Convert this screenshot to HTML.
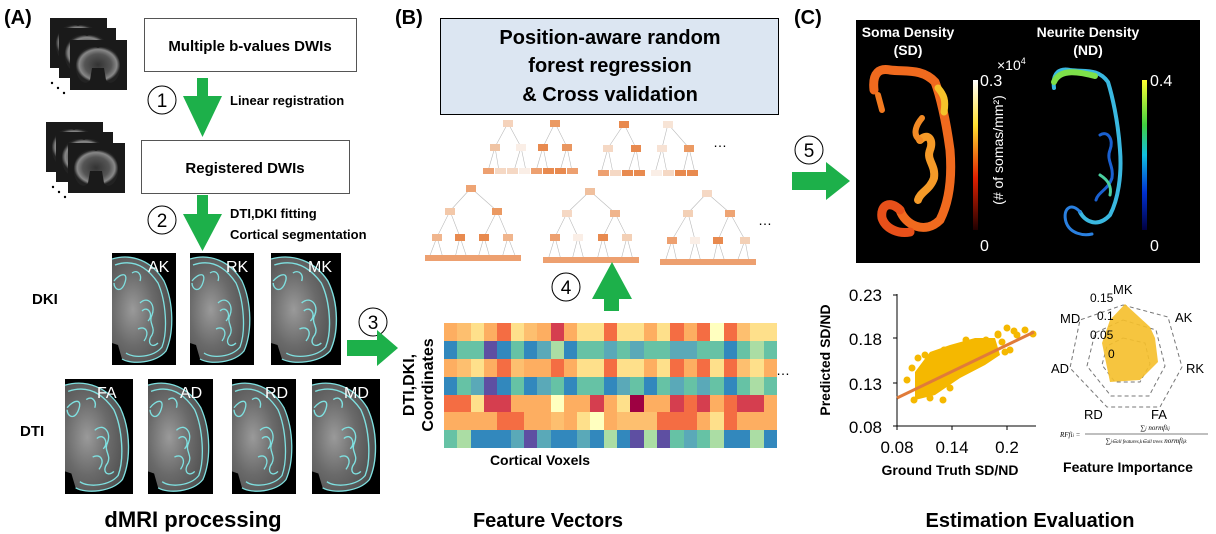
<!DOCTYPE html>
<html><head><meta charset="utf-8"><style>
html,body{margin:0;padding:0;background:#fff;}
svg{display:block;font-family:"Liberation Sans",Arial,sans-serif;}
.b{font-weight:bold;}
</style></head><body>
<svg width="1216" height="534" viewBox="0 0 1216 534" xmlns="http://www.w3.org/2000/svg">
<defs>
<radialGradient id="gb" cx="0.35" cy="0.5" r="0.7"><stop offset="0" stop-color="#9a9a9a"/><stop offset="0.5" stop-color="#6a6a6a"/><stop offset="1" stop-color="#4a4a4a"/></radialGradient>
<radialGradient id="dw" cx="0.5" cy="0.5" r="0.5"><stop offset="0" stop-color="#333"/><stop offset="0.6" stop-color="#555"/><stop offset="0.85" stop-color="#888"/><stop offset="1" stop-color="#222"/></radialGradient>
<symbol id="br" viewBox="0 0 64 112" preserveAspectRatio="none">
<rect width="64" height="112" fill="#000"/>
<path d="M0,6 C20,0 40,8 52,28 C62,50 62,80 54,98 C44,110 20,112 10,106 L6,92 L0,90 Z" fill="url(#gb)"/>
<path d="M0,6 C20,0 40,8 52,28 C62,50 62,80 54,98 C44,110 20,112 10,106 M3,12 C20,6 34,12 46,30 C54,48 56,78 50,94 C42,104 22,106 14,100 M2,28 C8,20 18,18 12,32 C8,40 2,36 2,30 M28,50 C36,42 44,52 40,62 C36,70 44,74 40,82 C34,90 40,96 46,90 M30,58 C36,52 42,62 36,68 M26,76 C34,72 38,80 32,88 M20,20 C26,16 30,22 28,28" fill="none" stroke="#7fe0e0" stroke-width="1.3"/>
</symbol>
<symbol id="dwi" viewBox="0 0 57 50" preserveAspectRatio="none">
<rect width="57" height="50" fill="#1a1a1a"/>
<path d="M6,30 C4,10 20,4 28,8 C36,4 52,10 50,30 C48,42 40,46 36,40 L34,28 L22,28 L20,40 C16,46 8,42 6,30Z" fill="url(#dw)"/>
</symbol>
</defs>

<!-- (A) -->
<text x="4" y="24" font-size="20" class="b">(A)</text>
<use href="#dwi" x="50" y="18" width="57" height="50"/>
<use href="#dwi" x="59" y="28" width="57" height="50"/>
<use href="#dwi" x="70" y="40" width="57" height="50"/>
<circle cx="52" cy="83" r="1.2"/><circle cx="58" cy="88" r="1.2"/><circle cx="64" cy="93" r="1.2"/>
<use href="#dwi" x="46" y="122" width="57" height="50"/>
<use href="#dwi" x="56" y="132" width="57" height="50"/>
<use href="#dwi" x="68" y="143" width="57" height="50"/>
<circle cx="53" cy="187" r="1.2"/><circle cx="59" cy="192" r="1.2"/><circle cx="65" cy="197" r="1.2"/>

<rect x="144.5" y="18.5" width="212" height="53" fill="#fff" stroke="#555"/>
<text x="250" y="51" font-size="15" class="b" text-anchor="middle">Multiple  b-values DWIs</text>
<rect x="141.5" y="140.5" width="208" height="53" fill="#fff" stroke="#555"/>
<text x="245" y="173" font-size="15" class="b" text-anchor="middle">Registered DWIs</text>

<polygon points="197,78 208,78 208,96 222,96 202.5,137 183,96 197,96" fill="#1db04a"/>
<circle cx="162" cy="100" r="14" fill="#fff" stroke="#000"/>
<text x="162" y="107" font-size="19" text-anchor="middle">1</text>
<text x="230" y="105" font-size="13" class="b">Linear registration</text>

<polygon points="197,195 208,195 208,214 222,214 202.5,251 183,214 197,214" fill="#1db04a"/>
<circle cx="162" cy="220" r="14" fill="#fff" stroke="#000"/>
<text x="162" y="227" font-size="19" text-anchor="middle">2</text>
<text x="230" y="218" font-size="13" class="b">DTI,DKI fitting</text>
<text x="230" y="239" font-size="13" class="b">Cortical segmentation</text>

<text x="32" y="304" font-size="15" class="b">DKI</text>
<use href="#br" x="112" y="253" width="64" height="112"/>
<use href="#br" x="190" y="253" width="64" height="112"/>
<use href="#br" x="271" y="253" width="70" height="112"/>
<g fill="#fff" font-size="16"><text x="148" y="272">AK</text><text x="226" y="272">RK</text><text x="308" y="272">MK</text></g>

<text x="20" y="436" font-size="15" class="b">DTI</text>
<use href="#br" x="65" y="379" width="68" height="115"/>
<use href="#br" x="148" y="379" width="65" height="115"/>
<use href="#br" x="232" y="379" width="64" height="115"/>
<use href="#br" x="312" y="379" width="68" height="115"/>
<g fill="#fff" font-size="16"><text x="97" y="398">FA</text><text x="180" y="398">AD</text><text x="265" y="398">RD</text><text x="344" y="398">MD</text></g>

<circle cx="373" cy="322" r="14" fill="#fff" stroke="#000"/>
<text x="373" y="329" font-size="19" text-anchor="middle">3</text>
<polygon points="347,340 377,340 377,330 398,348 377,366 377,356 347,356" fill="#1db04a"/>

<text x="193" y="527" font-size="22" class="b" text-anchor="middle">dMRI processing</text>

<!-- (B) -->
<text x="395" y="24" font-size="20" class="b">(B)</text>
<rect x="440.5" y="18.5" width="338" height="96" fill="#dce6f2" stroke="#000"/>
<g font-size="20" class="b" text-anchor="middle"><text x="610" y="44">Position-aware random</text><text x="610" y="72">forest regression</text><text x="610" y="101">&amp; Cross validation</text></g>

<!-- trees -->
<g stroke="#bbb" stroke-width="0.6">
<path d="M508,123 L495,147 M508,123 L521,147 M495,147 L488,171 M495,147 L499,171 M521,147 L514,171 M521,147 L526,171"/>
<path d="M555,123 L543,147 M555,123 L567,147 M543,147 L536,171 M543,147 L548,171 M567,147 L560,171 M567,147 L572,171"/>
<path d="M624,124 L608,148 M624,124 L636,148 M608,148 L601,173 M608,148 L613,173 M636,148 L628,173 M636,148 L640,173"/>
<path d="M668,124 L662,148 M668,124 L689,148 M662,148 L655,173 M662,148 L667,173 M689,148 L683,173 M689,148 L695,173"/>
<path d="M471,188 L450,211 M471,188 L497,211 M450,211 L437,237 M450,211 L460,237 M497,211 L484,237 M497,211 L508,237 M437,237 L429,258 M437,237 L443,258 M460,237 L455,258 M460,237 L467,258 M484,237 L478,258 M484,237 L490,258 M508,237 L502,258 M508,237 L516,258"/>
<path d="M590,191 L567,213 M590,191 L615,213 M567,213 L555,237 M567,213 L578,237 M615,213 L603,237 M615,213 L627,237 M555,237 L548,260 M555,237 L561,260 M578,237 L572,260 M578,237 L584,260 M603,237 L597,260 M603,237 L609,260 M627,237 L621,260 M627,237 L633,260"/>
<path d="M707,193 L688,213 M707,193 L730,213 M688,213 L672,240 M688,213 L695,240 M730,213 L718,240 M730,213 L745,240 M672,240 L665,262 M672,240 L677,262 M695,240 L689,262 M695,240 L701,262 M718,240 L713,262 M718,240 L725,262 M745,240 L737,262 M745,240 L749,262"/>
</g>
<g>
<rect x="503" y="120" width="10" height="7" fill="#f5d3bc"/><rect x="490" y="144" width="10" height="7" fill="#f0c4a4"/><rect x="516" y="144" width="10" height="7" fill="#faeee6"/>
<rect x="483" y="168" width="11" height="6" fill="#eda070"/><rect x="495" y="168" width="11" height="6" fill="#f5d8c4"/><rect x="507" y="168" width="11" height="6" fill="#f5d8c4"/><rect x="519" y="168" width="11" height="6" fill="#faeee6"/>
<rect x="550" y="120" width="10" height="7" fill="#eb9a63"/><rect x="538" y="144" width="10" height="7" fill="#e88a4f"/><rect x="562" y="144" width="10" height="7" fill="#e99660"/>
<rect x="531" y="168" width="11" height="6" fill="#eda070"/><rect x="543" y="168" width="11" height="6" fill="#e88a4f"/><rect x="555" y="168" width="11" height="6" fill="#e88a4f"/><rect x="567" y="168" width="11" height="6" fill="#eda070"/>
<rect x="619" y="121" width="10" height="7" fill="#e8894e"/><rect x="603" y="145" width="10" height="7" fill="#f5d8c4"/><rect x="631" y="145" width="10" height="7" fill="#e88a4f"/>
<rect x="598" y="170" width="11" height="6" fill="#eda070"/><rect x="610" y="170" width="11" height="6" fill="#f5d8c4"/><rect x="622" y="170" width="11" height="6" fill="#e88a4f"/><rect x="634" y="170" width="11" height="6" fill="#e88a4f"/>
<rect x="663" y="121" width="10" height="7" fill="#f7e4d6"/><rect x="657" y="145" width="10" height="7" fill="#f7e2d4"/><rect x="684" y="145" width="10" height="7" fill="#eb9a63"/>
<rect x="651" y="170" width="11" height="6" fill="#faeee6"/><rect x="663" y="170" width="11" height="6" fill="#f5d8c4"/><rect x="675" y="170" width="11" height="6" fill="#e88a4f"/><rect x="687" y="170" width="11" height="6" fill="#e88a4f"/>
<rect x="466" y="185" width="10" height="7" fill="#eea474"/><rect x="445" y="208" width="10" height="7" fill="#f3c8a9"/><rect x="492" y="208" width="10" height="7" fill="#eb9a63"/>
<rect x="432" y="234" width="10" height="7" fill="#f0b58d"/><rect x="455" y="234" width="10" height="7" fill="#e88a4f"/><rect x="479" y="234" width="10" height="7" fill="#e88a4f"/><rect x="503" y="234" width="10" height="7" fill="#f0b58d"/>
<rect x="425" y="255" width="96" height="6" fill="#eda070"/>
<rect x="585" y="188" width="10" height="7" fill="#f0c09e"/><rect x="562" y="210" width="10" height="7" fill="#f5d8c4"/><rect x="610" y="210" width="10" height="7" fill="#f0b58d"/>
<rect x="550" y="234" width="10" height="7" fill="#eda070"/><rect x="573" y="234" width="10" height="7" fill="#faeee6"/><rect x="598" y="234" width="10" height="7" fill="#e88a4f"/><rect x="622" y="234" width="10" height="7" fill="#f3d0b6"/>
<rect x="543" y="257" width="96" height="6" fill="#eda070"/>
<rect x="702" y="190" width="10" height="7" fill="#f5d8c4"/><rect x="683" y="210" width="10" height="7" fill="#f3d0b6"/><rect x="725" y="210" width="10" height="7" fill="#eea474"/>
<rect x="667" y="237" width="10" height="7" fill="#eda070"/><rect x="690" y="237" width="10" height="7" fill="#faeee6"/><rect x="713" y="237" width="10" height="7" fill="#e88a4f"/><rect x="740" y="237" width="10" height="7" fill="#f3d0b6"/>
<rect x="660" y="259" width="96" height="6" fill="#eda070"/>
</g>
<g font-size="14"><text x="713" y="147">…</text><text x="758" y="225">…</text><text x="776" y="375">…</text></g>

<circle cx="566" cy="287" r="14" fill="#fff" stroke="#000"/>
<text x="566" y="294" font-size="19" text-anchor="middle">4</text>
<polygon points="612,262 632,299 619,299 619,311 604,311 604,299 592,299" fill="#1db04a"/>

<!-- heatmap -->
<foreignObject x="444" y="323" width="333" height="126">
<div xmlns="http://www.w3.org/1999/xhtml" style="display:grid;grid-template-columns:repeat(25,13.32px);grid-auto-rows:17.9px;">
<style>
.a{background:#fdae61}.bb{background:#f46d43}.c{background:#fee08b}.d{background:#d53e4f}.e{background:#9e0142}.f{background:#66c2a5}.g{background:#3288bd}.h{background:#5e4fa2}.i{background:#abdda4}.j{background:#ffffbf}.k{background:#fdbf6f}.l{background:#5aa9b8}
</style>
<i class="a"></i><i class="k"></i><i class="c"></i><i class="a"></i><i class="bb"></i><i class="c"></i><i class="k"></i><i class="a"></i><i class="d"></i><i class="a"></i><i class="c"></i><i class="c"></i><i class="bb"></i><i class="c"></i><i class="c"></i><i class="a"></i><i class="c"></i><i class="bb"></i><i class="a"></i><i class="bb"></i><i class="j"></i><i class="bb"></i><i class="k"></i><i class="c"></i><i class="c"></i>
<i class="g"></i><i class="f"></i><i class="f"></i><i class="h"></i><i class="g"></i><i class="f"></i><i class="g"></i><i class="l"></i><i class="i"></i><i class="g"></i><i class="f"></i><i class="f"></i><i class="l"></i><i class="f"></i><i class="l"></i><i class="f"></i><i class="f"></i><i class="l"></i><i class="l"></i><i class="f"></i><i class="f"></i><i class="g"></i><i class="f"></i><i class="i"></i><i class="f"></i>
<i class="a"></i><i class="k"></i><i class="c"></i><i class="a"></i><i class="bb"></i><i class="k"></i><i class="a"></i><i class="a"></i><i class="bb"></i><i class="a"></i><i class="c"></i><i class="c"></i><i class="bb"></i><i class="c"></i><i class="c"></i><i class="a"></i><i class="c"></i><i class="bb"></i><i class="a"></i><i class="bb"></i><i class="c"></i><i class="bb"></i><i class="k"></i><i class="c"></i><i class="a"></i>
<i class="g"></i><i class="f"></i><i class="l"></i><i class="h"></i><i class="g"></i><i class="f"></i><i class="g"></i><i class="l"></i><i class="f"></i><i class="g"></i><i class="f"></i><i class="f"></i><i class="g"></i><i class="l"></i><i class="f"></i><i class="g"></i><i class="f"></i><i class="l"></i><i class="f"></i><i class="l"></i><i class="f"></i><i class="g"></i><i class="f"></i><i class="i"></i><i class="f"></i>
<i class="bb"></i><i class="bb"></i><i class="c"></i><i class="d"></i><i class="d"></i><i class="a"></i><i class="a"></i><i class="a"></i><i class="j"></i><i class="a"></i><i class="a"></i><i class="d"></i><i class="a"></i><i class="c"></i><i class="e"></i><i class="a"></i><i class="a"></i><i class="d"></i><i class="bb"></i><i class="d"></i><i class="a"></i><i class="bb"></i><i class="d"></i><i class="d"></i><i class="a"></i>
<i class="a"></i><i class="a"></i><i class="a"></i><i class="a"></i><i class="bb"></i><i class="bb"></i><i class="a"></i><i class="a"></i><i class="k"></i><i class="a"></i><i class="c"></i><i class="j"></i><i class="a"></i><i class="k"></i><i class="k"></i><i class="k"></i><i class="bb"></i><i class="bb"></i><i class="bb"></i><i class="a"></i><i class="c"></i><i class="bb"></i><i class="a"></i><i class="a"></i><i class="a"></i>
<i class="f"></i><i class="i"></i><i class="g"></i><i class="g"></i><i class="g"></i><i class="l"></i><i class="h"></i><i class="l"></i><i class="g"></i><i class="g"></i><i class="l"></i><i class="g"></i><i class="i"></i><i class="g"></i><i class="h"></i><i class="i"></i><i class="h"></i><i class="f"></i><i class="l"></i><i class="f"></i><i class="i"></i><i class="g"></i><i class="g"></i><i class="i"></i><i class="g"></i>
</div>
</foreignObject>
<text transform="translate(414,385) rotate(-90)" font-size="16" class="b" text-anchor="middle">DTI,DKI,</text>
<text transform="translate(433,385) rotate(-90)" font-size="16" class="b" text-anchor="middle">Coordinates</text>
<text x="540" y="465" font-size="14" class="b" text-anchor="middle">Cortical Voxels</text>
<text x="548" y="527" font-size="20" class="b" text-anchor="middle">Feature Vectors</text>

<!-- (C) -->
<text x="794" y="24" font-size="20" class="b">(C)</text>
<circle cx="809" cy="150" r="14" fill="#fff" stroke="#000"/>
<text x="809" y="157" font-size="19" text-anchor="middle">5</text>
<polygon points="792,172 826,172 826,162 850,181 826,200 826,190 792,190" fill="#1db04a"/>

<rect x="856" y="20" width="344" height="243" fill="#000"/>
<g fill="#fff" font-size="14" class="b" text-anchor="middle">
<text x="908" y="37">Soma Density</text><text x="908" y="55">(SD)</text>
<text x="1088" y="37">Neurite Density</text><text x="1088" y="55">(ND)</text></g>
<g fill="none" stroke-linecap="round" stroke-linejoin="round">
<path d="M874,90 C872,72 880,68 890,70 C905,72 922,68 935,82 C940,95 946,120 950,150 C952,175 950,200 940,220 C925,235 905,225 900,210" stroke="#f06a1e" stroke-width="9"/>
<path d="M878,95 L882,110" stroke="#f27a20" stroke-width="6"/>
<path d="M938,88 C944,95 946,100 944,112" stroke="#f5c22a" stroke-width="7"/>
<path d="M920,140 C928,132 934,140 930,150 C926,160 936,165 934,178 C930,190 920,192 918,200" stroke="#f59a28" stroke-width="8"/>
<path d="M900,210 C890,200 880,205 882,218 C886,230 900,234 910,232" stroke="#e8501a" stroke-width="9"/>
<path d="M922,118 C916,125 912,135 920,140" stroke="#f28a25" stroke-width="6"/>
<path d="M1054,88 C1052,72 1060,68 1070,70 C1085,72 1098,68 1108,82 C1112,95 1118,120 1120,150 C1122,175 1118,200 1110,215 C1098,228 1085,222 1080,212" stroke="#3ab8e0" stroke-width="4"/>
<path d="M1054,82 C1060,68 1080,72 1095,76" stroke="#7ee04a" stroke-width="6"/>
<path d="M1100,135 C1108,130 1114,140 1110,150 C1106,160 1114,166 1112,178 C1108,190 1098,192 1096,200" stroke="#1a60d0" stroke-width="3"/>
<path d="M1080,212 C1072,202 1062,208 1066,222 C1070,234 1084,236 1092,234" stroke="#2a80e0" stroke-width="3"/>
<path d="M1100,175 C1108,180 1112,186 1110,195" stroke="#4ad0a0" stroke-width="3"/>
</g>
<defs>
<linearGradient id="sdb" x1="0" y1="0" x2="0" y2="1"><stop offset="0" stop-color="#fff"/><stop offset="0.3" stop-color="#ffe030"/><stop offset="0.65" stop-color="#e02000"/><stop offset="1" stop-color="#200000"/></linearGradient>
<linearGradient id="ndb" x1="0" y1="0" x2="0" y2="1"><stop offset="0" stop-color="#ffff30"/><stop offset="0.3" stop-color="#40d040"/><stop offset="0.5" stop-color="#10c0e0"/><stop offset="0.75" stop-color="#0030d0"/><stop offset="1" stop-color="#000040"/></linearGradient>
</defs>
<rect x="973" y="80" width="5" height="150" fill="url(#sdb)"/>
<rect x="1142" y="80" width="5" height="150" fill="url(#ndb)"/>
<g fill="#fff" font-size="16">
<text x="980" y="86">0.3</text><text x="980" y="251">0</text>
<text x="997" y="70" font-size="14">×10<tspan font-size="9" dy="-6">4</tspan></text>
<text x="1150" y="86">0.4</text><text x="1150" y="251">0</text>
<text transform="translate(1003,150) rotate(-90)" font-size="14" text-anchor="middle">(# of somas/mm²)</text>
</g>

<!-- scatter -->
<g font-size="17" text-anchor="end">
<text x="882" y="301">0.23</text><text x="882" y="345">0.18</text><text x="882" y="390">0.13</text><text x="882" y="433">0.08</text></g>
<g font-size="17" text-anchor="middle"><text x="897" y="453">0.08</text><text x="952" y="453">0.14</text><text x="1007" y="453">0.2</text></g>
<path d="M897,294 V426 H1036 M897,295 h-4 M897,338 h-4 M897,383 h-4 M897,426 h-4 M952,426 v4 M1007,426 v4 M897,426 v4" stroke="#000" stroke-width="1" fill="none"/>
<text x="950" y="475" font-size="14" class="b" text-anchor="middle">Ground Truth SD/ND</text>
<text transform="translate(830,360) rotate(-90)" font-size="14" class="b" text-anchor="middle">Predicted SD/ND</text>
<g fill="#f5b800">
<polygon points="915,372 930,352 950,345 975,338 995,338 1000,355 985,365 960,378 935,395 915,400"/>
<circle cx="907" cy="380" r="3.5"/><circle cx="914" cy="400" r="3.5"/><circle cx="918" cy="358" r="3.5"/><circle cx="925" cy="355" r="3.5"/><circle cx="944" cy="350" r="3.5"/><circle cx="966" cy="340" r="3.5"/><circle cx="986" cy="340" r="3.5"/><circle cx="998" cy="335" r="3.5"/><circle cx="1002" cy="342" r="3.5"/><circle cx="998" cy="334" r="3.5"/><circle cx="1017" cy="335" r="3.5"/><circle cx="1025" cy="330" r="3.5"/><circle cx="1033" cy="334" r="3.5"/><circle cx="1010" cy="350" r="3.5"/><circle cx="1005" cy="352" r="3.5"/><circle cx="1007" cy="328" r="3.5"/><circle cx="1014" cy="331" r="3.5"/><circle cx="982" cy="356" r="3.5"/><circle cx="943" cy="400" r="3.5"/><circle cx="950" cy="388" r="3.5"/><circle cx="930" cy="398" r="3.5"/><circle cx="922" cy="372" r="3.5"/><circle cx="912" cy="368" r="3.5"/><circle cx="970" cy="358" r="3.5"/><circle cx="960" cy="370" r="3.5"/><circle cx="990" cy="350" r="3.5"/>
</g>
<line x1="897" y1="398" x2="1034" y2="332" stroke="#e07b39" stroke-width="3"/>

<!-- radar -->
<g fill="none" stroke="#777" stroke-dasharray="4,3" stroke-width="1">
<polygon points="1123,305 1168,317 1182,367 1160,407 1107,407 1070,368 1080,320"/>
<polygon points="1123,320 1156,330 1165,366 1149,396 1111,396 1087,366 1095,333"/>
<polygon points="1123,338 1145,343 1150,364 1140,382 1115,382 1102,365 1107,346"/>
</g>
<polygon points="1125,304 1150,327 1155,338 1158,362 1140,380 1110,382 1102,343 1110,320" fill="#f5bf2a" opacity="0.9"/>
<g font-size="13" fill="#000">
<text x="1113" y="294">MK</text><text x="1175" y="322">AK</text><text x="1186" y="373">RK</text><text x="1151" y="419">FA</text><text x="1084" y="419">RD</text><text x="1051" y="373">AD</text><text x="1060" y="323">MD</text>
<text x="1090" y="302" font-size="12">0.15</text><text x="1097" y="320" font-size="12">0.1</text><text x="1090" y="339" font-size="12">0.05</text><text x="1108" y="358" font-size="12">0</text></g>
<g font-family="Liberation Serif,serif" font-style="italic" font-size="7">
<text x="1060" y="437">RFfi<tspan font-size="5">i</tspan> =</text>
<text x="1155" y="430" text-anchor="middle">∑<tspan font-size="5">j</tspan> normfi<tspan font-size="5">ij</tspan></text>
<line x1="1085" y1="434" x2="1208" y2="434" stroke="#000" stroke-width="0.6"/>
<text x="1146" y="443" text-anchor="middle">∑<tspan font-size="5">j∈all features,k∈all trees</tspan> normfi<tspan font-size="5">jk</tspan></text>
</g>
<text x="1128" y="472" font-size="14" class="b" text-anchor="middle">Feature Importance</text>
<text x="1030" y="527" font-size="20" class="b" text-anchor="middle">Estimation Evaluation</text>
</svg>
</body></html>
